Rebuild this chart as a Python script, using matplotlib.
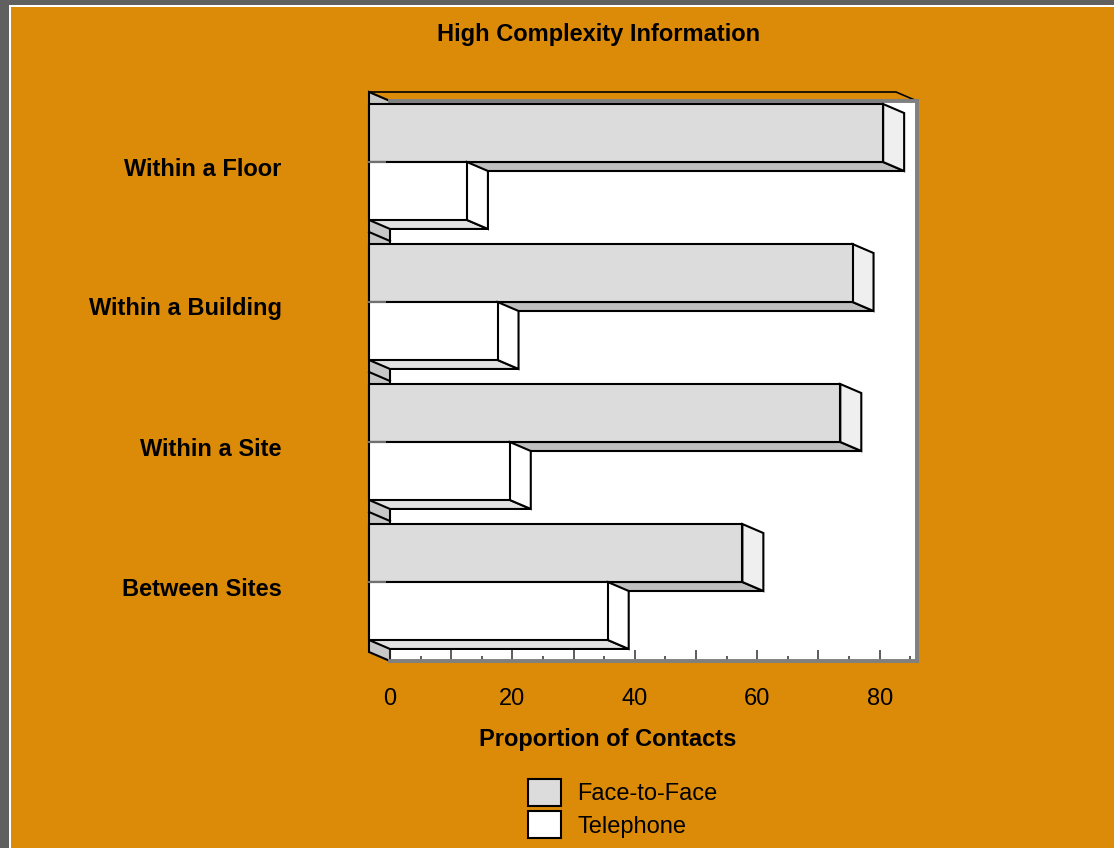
import matplotlib
matplotlib.use("Agg")
import matplotlib.pyplot as plt
from matplotlib.patches import Polygon, Rectangle, Patch
from matplotlib.ticker import MultipleLocator, FuncFormatter

plt.rcParams["font.family"] = ["Liberation Sans", "DejaVu Sans"]

# Contact shares (%) by distance, bottom to top
CATEGORIES = ["Between Sites", "Within a Site", "Within a Building", "Within a Floor"]
FACE_TO_FACE = [61, 77, 79, 84]
TELEPHONE = [39, 23, 21, 16]
SERIES = ["Face-to-Face", "Telephone"]
X_MAX = 86.1

_ORANGE = "#DC8B09"
_FRAME = "#606060"
_WALL = "#C8C8C8"
_SPINE = "#808080"

# Face colours: front, end cap, underside
_F2F_COLORS = ("#DCDCDC", "#EFEFEF", "#C0C0C0")
_TEL_COLORS = ("#FFFFFF", "#FFFFFF", "#E2E2E2")

W, H, DPI = 1114, 848, 100
AX_L, AX_R, AX_T, AX_B = 390, 917, 101, 661   # back wall, pixels
DEPTH_X, DEPTH_Y = 21, 9                      # front plane shift, pixels

fig = plt.figure(figsize=(W / DPI, H / DPI), dpi=DPI, facecolor=_ORANGE)
ax = fig.add_axes([AX_L / W, 1 - AX_B / H, (AX_R - AX_L) / W, (AX_B - AX_T) / H])
n = len(CATEGORIES)
ax.set_xlim(0, X_MAX)
ax.set_ylim(0, n)
ax.set_facecolor("white")

# depth offset expressed in data units
dx = DEPTH_X * X_MAX / (AX_R - AX_L)
dy = DEPTH_Y * n / (AX_B - AX_T)
BAR_H = 0.414


def poly(pts, fc, z, lw=1.5):
    ax.add_patch(Polygon(pts, closed=True, facecolor=fc, edgecolor="black",
                         lw=lw, joinstyle="miter", zorder=z, clip_on=False))


def bar3d(value, y0, y1, colors, z):
    """Horizontal bar with front face, end cap and underside."""
    front, cap, bottom = colors
    x1 = value - dx
    poly([(-dx, y0), (x1, y0), (value, y0 - dy), (0, y0 - dy)], bottom, z)
    poly([(x1, y0), (x1, y1), (value, y1 - dy), (value, y0 - dy)], cap, z)
    poly([(-dx, y0), (x1, y0), (x1, y1), (-dx, y1)], front, z)


# side wall and category dividers
poly([(-dx, dy), (-dx, n + dy), (0, n), (0, 0)], _WALL, 1)
for k in range(1, n):
    ax.plot([-dx, 0], [k + dy, k], color="black", lw=1.5, zorder=1.5, clip_on=False)

# top edge of the box
ax.plot([-dx, X_MAX - dx, X_MAX], [n + dy, n + dy, n], color="black", lw=1.2,
        zorder=1.5, clip_on=False)

# paint from the top category down so lower bars sit in front
z = 3
for k in reversed(range(n)):
    mid = k + 0.5 + dy
    bar3d(FACE_TO_FACE[k], mid, mid + BAR_H, _F2F_COLORS, z)
    bar3d(TELEPHONE[k], mid - BAR_H, mid, _TEL_COLORS, z + 0.1)
    z += 1

for k in range(n):
    ax.plot([-dx, -dx * 0.25], [k + 0.5 + dy] * 2, color="#707070", lw=1.5,
            zorder=20, clip_on=False)

# axes styling
for side in ("top", "right", "bottom"):
    ax.spines[side].set_color(_SPINE)
    ax.spines[side].set_linewidth(2.8)
ax.spines["left"].set_visible(False)

ax.xaxis.set_major_locator(MultipleLocator(10))
ax.xaxis.set_minor_locator(MultipleLocator(5))
ax.xaxis.set_major_formatter(FuncFormatter(lambda v, _: f"{v:.0f}" if v % 20 == 0 else ""))
ax.tick_params(axis="x", which="major", direction="in", length=8, width=1.1,
               color="#303030", labelsize=17, pad=19.5)
ax.tick_params(axis="x", which="minor", direction="in", length=3.6, width=1.1,
               color="#303030")
ax.set_yticks([k + 0.5 + dy / 2 for k in range(n)])
ax.set_yticklabels(CATEGORIES, fontsize=17, fontweight="bold")
ax.tick_params(axis="y", length=0, pad=78)

ax.set_xlabel("Proportion of Contacts", fontsize=17, fontweight="bold")
ax.xaxis.set_label_coords((608 - AX_L) / (AX_R - AX_L), (AX_B - 728) / (AX_B - AX_T))

fig.text(599 / W, 1 - 35 / H, "High Complexity Information", ha="center",
         va="center", fontsize=17, fontweight="bold")

handles = [
    Patch(facecolor=_F2F_COLORS[0], edgecolor="black", lw=1.5, label=SERIES[0]),
    Patch(facecolor=_TEL_COLORS[0], edgecolor="black", lw=1.5, label=SERIES[1]),
]
fig.legend(handles=handles, loc="upper left", bbox_to_anchor=(528 / W, 1 - 779 / H),
           frameon=False, fontsize=17, handlelength=1.4, handleheight=1.38,
           handletextpad=0.7, labelspacing=0.22, borderpad=0, borderaxespad=0)

# page frame
fig.add_artist(Rectangle((0, 0), 9 / W, 1, transform=fig.transFigure, color=_FRAME, lw=0))
fig.add_artist(Rectangle((0, 1 - 5 / H), 1, 5 / H, transform=fig.transFigure, color=_FRAME, lw=0))
fig.add_artist(Rectangle((9 / W, 0), 2 / W, 1 - 5 / H, transform=fig.transFigure, color="white", lw=0))
fig.add_artist(Rectangle((9 / W, 1 - 7 / H), 1, 2 / H, transform=fig.transFigure, color="white", lw=0))

fig.savefig("out.png", dpi=DPI, facecolor=_ORANGE)
